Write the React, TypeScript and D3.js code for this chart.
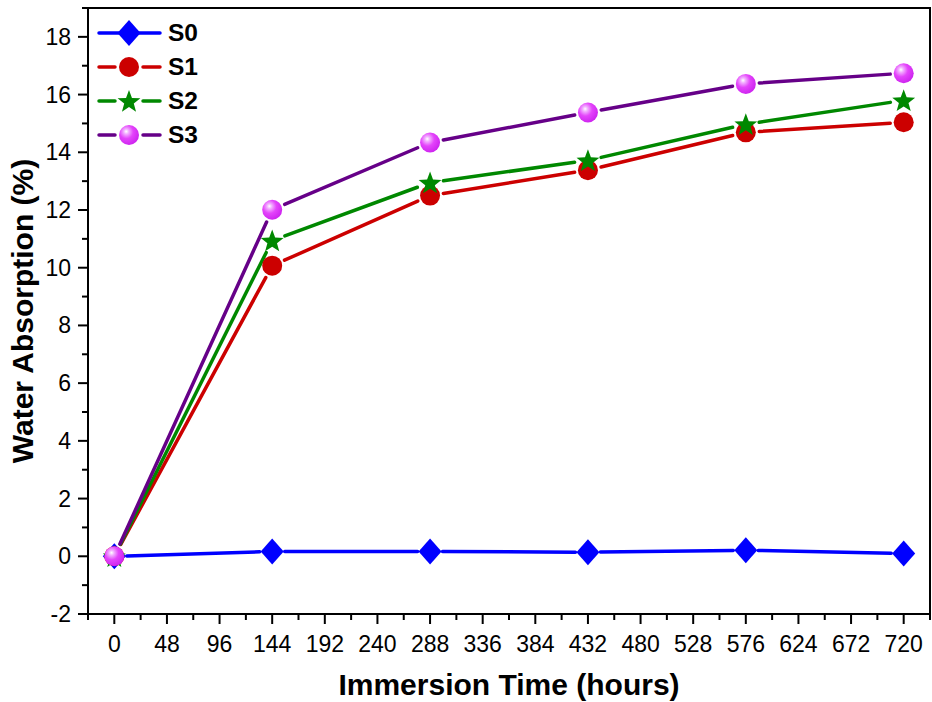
import React from "react";
import * as d3 from "d3";

const hours = [0, 144, 288, 432, 576, 720];
const seriesNames = ["S0", "S1", "S2", "S3"];
const s0 = [0, 0.17, 0.17, 0.14, 0.21, 0.1];
const s1 = [0, 10.07, 12.5, 13.38, 14.69, 15.04];
const s2 = [0, 10.94, 12.95, 13.72, 14.97, 15.8];
const s3 = [0, 12.01, 14.34, 15.38, 16.37, 16.74];
const xTicks = [0, 48, 96, 144, 192, 240, 288, 336, 384, 432, 480, 528, 576, 624, 672, 720];
const yTicks = [-2, 0, 2, 4, 6, 8, 10, 12, 14, 16, 18];

const W = 932, H = 702;
const L = 88, R = 930, T = 8, B = 614;

const x = d3.scaleLinear().domain([-24, 744]).range([L, R]);
const y = d3.scaleLinear().domain([-2, 19]).range([B, T]);

const styles = [
  { line: "#0000ff", fill: "#0000ff", shape: "diamond" },
  { line: "#cc0000", fill: "#cc0000", shape: "circle" },
  { line: "#008800", fill: "#008800", shape: "star" },
  { line: "#660088", fill: "url(#sphere)", shape: "sphere" },
];
const allData = [s0, s1, s2, s3];

function starPath(cx: number, cy: number, ro: number) {
  const ri = ro * 0.42;
  const pts: string[] = [];
  for (let i = 0; i < 10; i++) {
    const a = -Math.PI / 2 + (i * Math.PI) / 5;
    const r = i % 2 === 0 ? ro : ri;
    pts.push(`${cx + r * Math.cos(a)},${cy + r * Math.sin(a)}`);
  }
  return "M" + pts.join("L") + "Z";
}

function Marker({ shape, cx, cy, fill }: { shape: string; cx: number; cy: number; fill: string }) {
  if (shape === "diamond") {
    return <path d={`M${cx},${cy - 13}L${cx + 11.5},${cy}L${cx},${cy + 13}L${cx - 11.5},${cy}Z`} fill={fill} />;
  }
  if (shape === "circle") return <circle cx={cx} cy={cy} r={10} fill={fill} />;
  if (shape === "star") return <path d={starPath(cx, cy + 1, 12)} fill={fill} />;
  return <circle cx={cx} cy={cy} r={10} fill={fill} />;
}

function segments(pts: [number, number][], gap: number) {
  const segs: [number, number, number, number][] = [];
  for (let i = 0; i < pts.length - 1; i++) {
    const [x1, y1] = pts[i];
    const [x2, y2] = pts[i + 1];
    const dx = x2 - x1, dy = y2 - y1;
    const len = Math.hypot(dx, dy);
    if (len <= 2 * gap) continue;
    const ux = dx / len, uy = dy / len;
    segs.push([x1 + ux * gap, y1 + uy * gap, x2 - ux * gap, y2 - uy * gap]);
  }
  return segs;
}

export default function App() {
  const minorX = d3.range(-24, 745, 24);
  const minorY = d3.range(-2, 19.01, 1);
  const font = "Arial, 'Liberation Sans', sans-serif";
  return (
    <svg width={W} height={H} style={{ position: "absolute", left: 0, top: 0 }} fontFamily={font}>
      <defs>
        <radialGradient id="sphere" cx="0.38" cy="0.36" r="0.68" fx="0.36" fy="0.32">
          <stop offset="0" stopColor="#ffffff" />
          <stop offset="0.18" stopColor="#f2b0ff" />
          <stop offset="0.5" stopColor="#e444fb" />
          <stop offset="1" stopColor="#cc22ee" />
        </radialGradient>
      </defs>
      <rect x={0} y={0} width={W} height={H} fill="#fff" />
      {allData.map((d, si) => {
        const pts = hours.map((h, i) => [x(h), y(d[i])] as [number, number]);
        return (
          <g key={si}>
            {segments(pts, si === 0 ? 12.5 : 13.5).map((s, k) => (
              <line key={k} x1={s[0]} y1={s[1]} x2={s[2]} y2={s[3]} stroke={styles[si].line} strokeWidth={3.5} strokeLinecap="round" />
            ))}
          </g>
        );
      })}
      {allData.map((d, si) => (
        <g key={"m" + si}>
          {hours.map((h, i) => (
            <Marker key={i} shape={styles[si].shape} cx={x(h)} cy={y(d[i])} fill={styles[si].fill} />
          ))}
        </g>
      ))}
      <rect x={L} y={T} width={R - L} height={B - T} fill="none" stroke="#000" strokeWidth={2} />
      {minorX.map((v) => (
        <line key={"xm" + v} x1={x(v)} x2={x(v)} y1={B} y2={B + (v % 48 === 0 ? 10 : 6)} stroke="#000" strokeWidth={2} />
      ))}
      {xTicks.map((v) => (
        <text key={"xl" + v} x={x(v)} y={B + 38} fontSize={23} textAnchor="middle" fill="#000">
          {v}
        </text>
      ))}
      {minorY.map((v) => (
        <line key={"ym" + v} x1={L} x2={L - (Math.round(v) % 2 === 0 ? 10 : 6)} y1={y(v)} y2={y(v)} stroke="#000" strokeWidth={2} />
      ))}
      {yTicks.map((v) => (
        <text key={"yl" + v} x={L - 17} y={y(v) + 8} fontSize={23} textAnchor="end" fill="#000">
          {v}
        </text>
      ))}
      <text x={509} y={695} fontSize={30} fontWeight="bold" textAnchor="middle" fill="#000">
        Immersion Time (hours)
      </text>
      <text transform={`translate(33,${(T + B) / 2}) rotate(-90)`} fontSize={30} fontWeight="bold" textAnchor="middle" fill="#000">
        Water Absorption (%)
      </text>
      {seriesNames.map((n, i) => {
        const ly = 33 + i * 34;
        return (
          <g key={"lg" + n}>
            {i === 0 ? (
              <line x1={99} x2={160} y1={ly} y2={ly} stroke={styles[i].line} strokeWidth={3.5} strokeLinecap="round" />
            ) : (
              <>
                <line x1={99} x2={115} y1={ly} y2={ly} stroke={styles[i].line} strokeWidth={3.5} strokeLinecap="round" />
                <line x1={143} x2={160} y1={ly} y2={ly} stroke={styles[i].line} strokeWidth={3.5} strokeLinecap="round" />
              </>
            )}
            <Marker shape={styles[i].shape} cx={129} cy={ly} fill={styles[i].fill} />
            <text x={168} y={ly + 8} fontSize={24.5} fontWeight="bold" fill="#000">
              {n}
            </text>
          </g>
        );
      })}
    </svg>
  );
}
